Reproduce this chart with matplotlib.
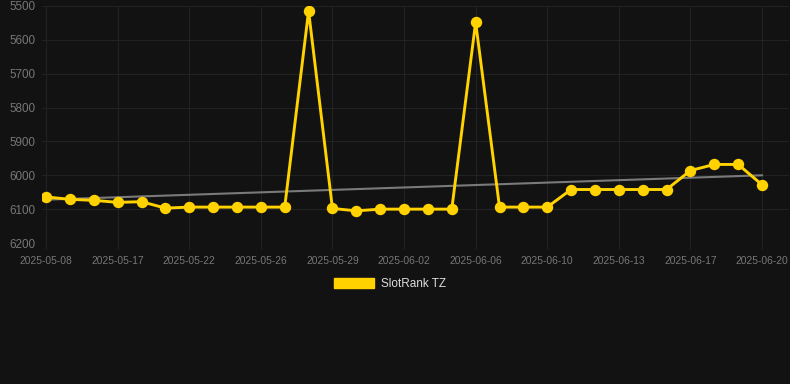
import matplotlib
matplotlib.use("Agg")
import matplotlib.pyplot as plt
from matplotlib.patches import Patch
import numpy as np

plt.rcParams['font.family'] = ['Liberation Sans', 'DejaVu Sans']

# data
dates = ['2025-05-08', '', '', '2025-05-17', '', '', '2025-05-22', '', '', '2025-05-26',
         '', '', '2025-05-29', '', '', '2025-06-02', '', '', '2025-06-06', '', '',
         '2025-06-10', '', '', '2025-06-13', '', '', '2025-06-17', '', '', '2025-06-20']
rank = [6064, 6071, 6074, 6080, 6078, 6097, 6094, 6094, 6094, 6094, 6094, 5515,
        6098, 6105, 6100, 6100, 6100, 6100, 5548, 6094, 6094, 6094, 6042, 6042,
        6042, 6042, 6042, 5986, 5968, 5968, 6028]
trend_start = 6072
trend_end = 6000
series_name = 'SlotRank TZ'

bg = '#121212'
gold = '#FFD200'
grid_c = '#222222'
tick_c = '#777777'

fig = plt.figure(figsize=(7.9, 3.84), dpi=100, facecolor=bg)
ax = fig.add_axes([42/790, 1-243/384, 747/790, 237/384])
ax.set_facecolor(bg)

x = np.arange(len(rank))
ax.plot([x[0], x[-1]], [trend_start, trend_end], color='#7a7a7a', lw=1.5, zorder=2)
ax.plot(x, rank, color=gold, lw=2.1, marker='o', ms=7.2, mec=gold, mfc=gold, zorder=3)

ax.set_ylim(6200, 5500)
ax.set_yticks(range(5500, 6201, 100))
ax.set_xlim(-0.17, len(rank) - 1 + 1.13)
tick_idx = [i for i, d in enumerate(dates) if d]
ax.set_xticks(tick_idx)
ax.set_xticklabels([dates[i] for i in tick_idx])

ax.grid(True, color=grid_c, lw=0.8)
for s in ax.spines.values():
    s.set_visible(False)
ax.tick_params(axis='y', length=0, pad=5, labelsize=8.4, labelcolor=tick_c)
ax.tick_params(axis='x', length=4, color=grid_c, pad=5, labelsize=7.4, labelcolor=tick_c)

leg = fig.legend([Patch(color=gold)], [series_name], loc='center',
                 bbox_to_anchor=(390/790, 1-284/384), frameon=False,
                 handlelength=3.4, handleheight=1.0, handletextpad=0.6,
                 fontsize=8.5)
for t in leg.get_texts():
    t.set_color('#dddddd')

fig.savefig('out.png', dpi=100, facecolor=bg)
